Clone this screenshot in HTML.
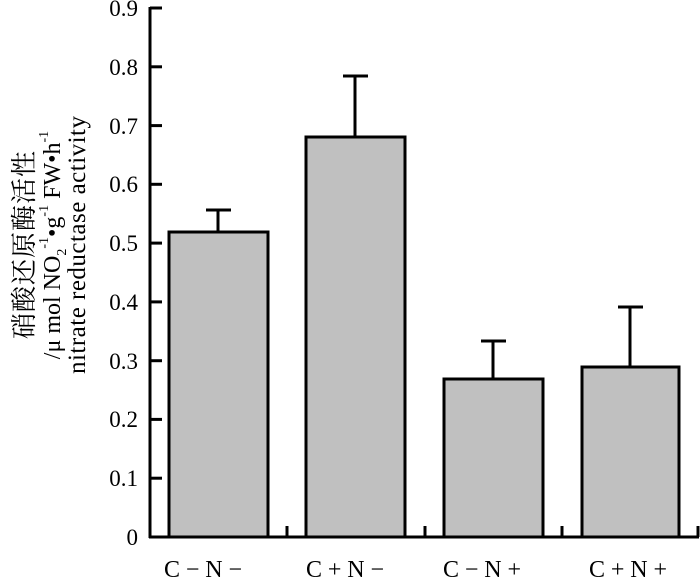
<!DOCTYPE html>
<html><head><meta charset="utf-8"><style>
body{margin:0;background:#fff;}
svg text{font-family:"Liberation Serif","Noto Serif CJK SC",serif;fill:#000;}
</style></head><body>
<svg width="700" height="581" viewBox="0 0 700 581" xmlns="http://www.w3.org/2000/svg">
<g stroke="#000" stroke-width="3" fill="none">
<line x1="150" y1="7" x2="150" y2="538"/>
<line x1="149" y1="537" x2="699" y2="537"/>
<line x1="150" y1="8" x2="162" y2="8"/>
<line x1="150" y1="66.8" x2="162" y2="66.8"/>
<line x1="150" y1="125.6" x2="162" y2="125.6"/>
<line x1="150" y1="184.3" x2="162" y2="184.3"/>
<line x1="150" y1="243.1" x2="162" y2="243.1"/>
<line x1="150" y1="301.9" x2="162" y2="301.9"/>
<line x1="150" y1="360.7" x2="162" y2="360.7"/>
<line x1="150" y1="419.4" x2="162" y2="419.4"/>
<line x1="150" y1="478.2" x2="162" y2="478.2"/>
<line x1="287" y1="537" x2="287" y2="526"/>
<line x1="425" y1="537" x2="425" y2="526"/>
<line x1="562" y1="537" x2="562" y2="526"/>
<line x1="698" y1="537" x2="698" y2="526"/>
</g>
<g stroke="#000" stroke-width="3" fill="#c0c0c0">
<rect x="169" y="232" width="99" height="305"/>
<rect x="306" y="137" width="99" height="400"/>
<rect x="444" y="379" width="99" height="158"/>
<rect x="582" y="367" width="97" height="170"/>
</g>
<g stroke="#000" stroke-width="3">
<line x1="218" y1="232" x2="218" y2="210"/><line x1="206" y1="210" x2="231" y2="210"/>
<line x1="355" y1="137" x2="355" y2="76"/><line x1="343" y1="76" x2="368" y2="76"/>
<line x1="493" y1="379" x2="493" y2="341"/><line x1="481" y1="341" x2="506" y2="341"/>
<line x1="630" y1="367" x2="630" y2="307"/><line x1="618" y1="307" x2="643" y2="307"/>
</g>
<g font-size="23" text-anchor="end">
<text x="138" y="16">0.9</text>
<text x="138" y="75">0.8</text>
<text x="138" y="134">0.7</text>
<text x="138" y="192">0.6</text>
<text x="138" y="251">0.5</text>
<text x="138" y="310">0.4</text>
<text x="138" y="369">0.3</text>
<text x="138" y="427">0.2</text>
<text x="138" y="486">0.1</text>
<text x="138" y="545">0</text>
</g>
<g font-size="24" text-anchor="middle">
<text x="203" y="577" textLength="78">C−N−</text>
<text x="345" y="577" textLength="78">C+N−</text>
<text x="482" y="577" textLength="78">C−N+</text>
<text x="628" y="577" textLength="78">C+N+</text>
</g>
<g transform="translate(50,245) rotate(-90)" text-anchor="middle">
<text x="0" y="-17" font-size="26" textLength="188">硝酸还原酶活性</text>
<text x="0" y="10" font-size="24">/μ mol NO<tspan font-size="14" dy="6">2</tspan><tspan font-size="14" dy="-18">-1</tspan><tspan dy="12">•g</tspan><tspan font-size="14" dy="-12">-1</tspan><tspan dy="12"> FW•h</tspan><tspan font-size="14" dy="-12">-1</tspan></text>
<text x="0" y="35" font-size="25" textLength="258">nitrate reductase activity</text>
</g>
</svg>
</body></html>
